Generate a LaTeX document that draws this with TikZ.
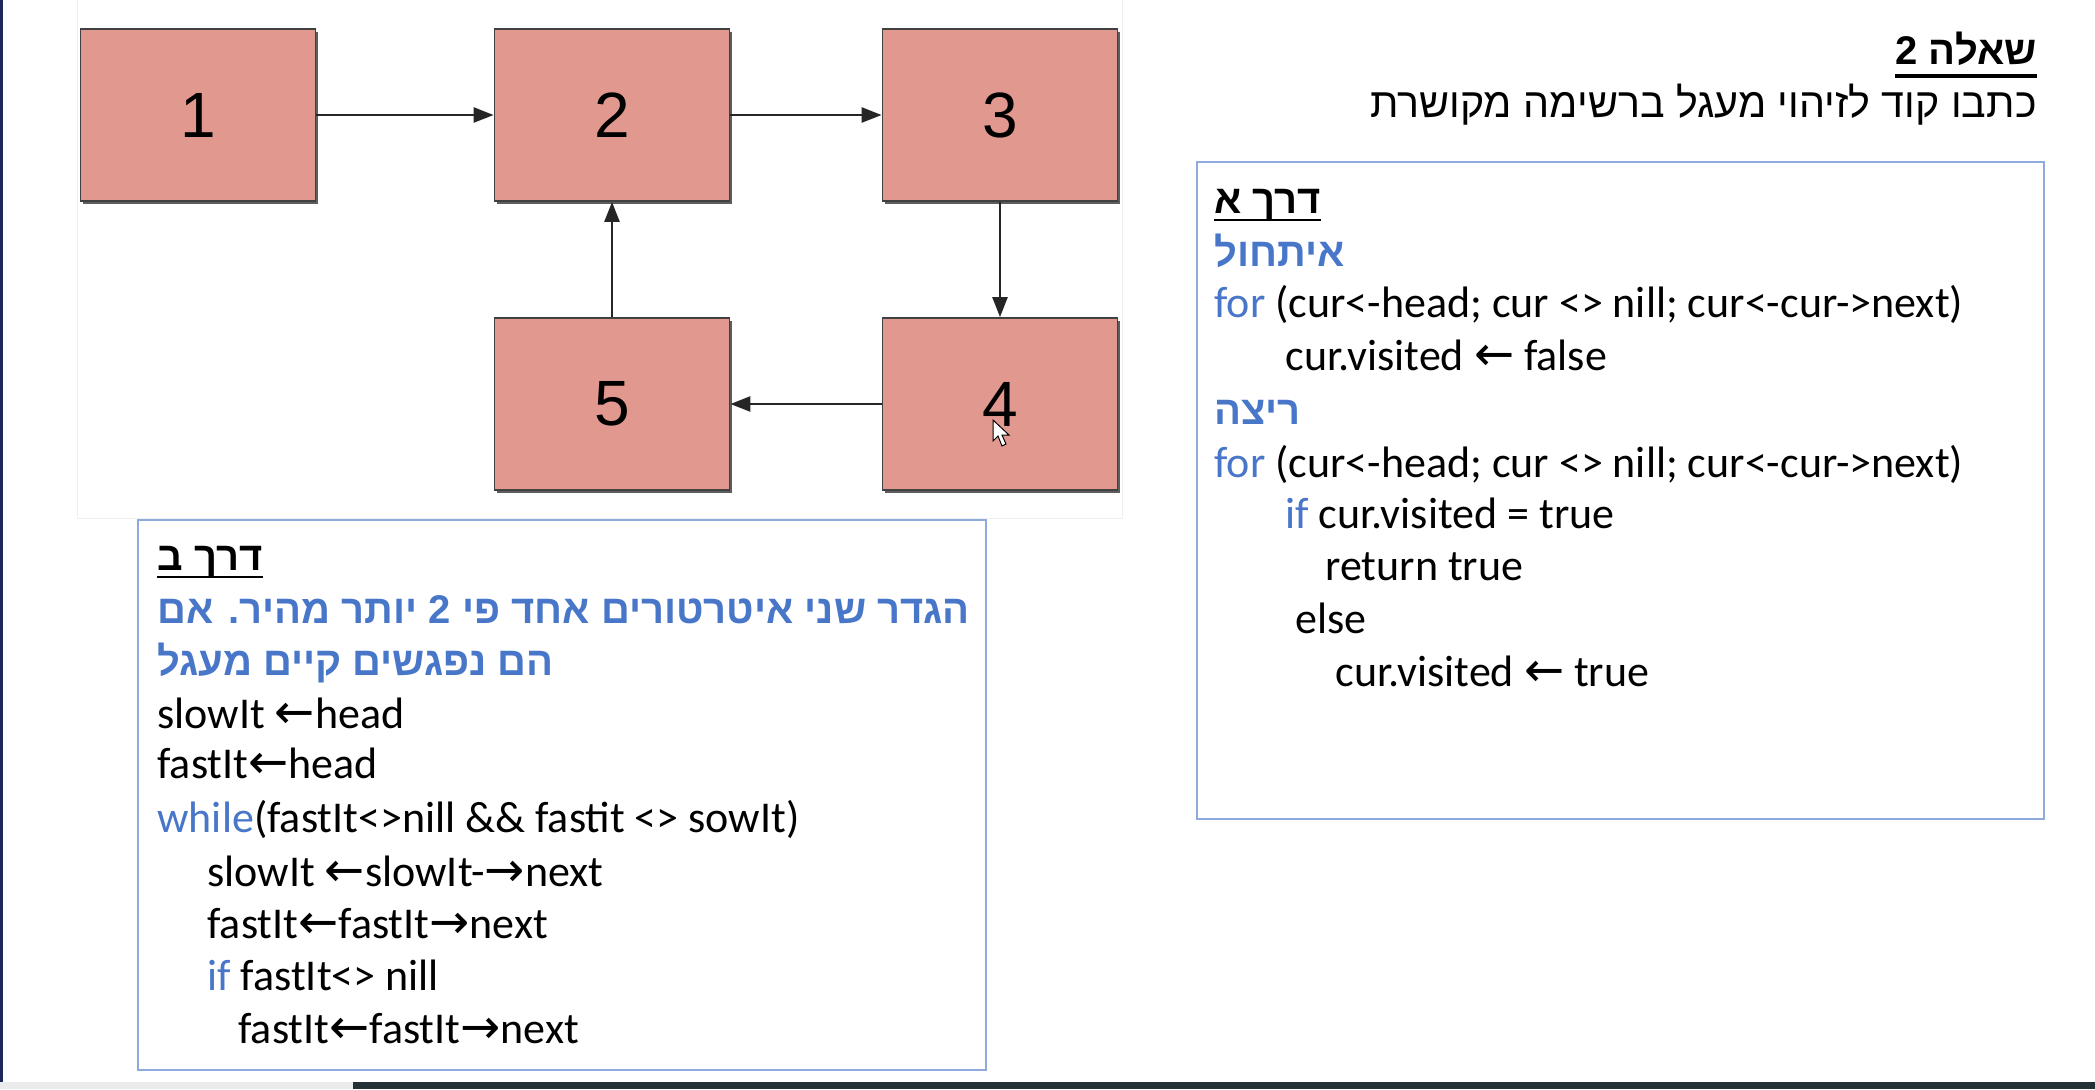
\documentclass[tikz,border=0pt]{standalone}
\usepackage{fontspec}
\setmainfont{Carlito}
\newfontfamily\hebfont[Script=Hebrew]{Liberation Sans}
\newfontfamily\numfont{Liberation Sans}
\newfontfamily\arrowfont{DejaVu Sans}
\TeXXeTstate=1
\usetikzlibrary{arrows.meta,positioning,shadows}

\definecolor{boxfill}{RGB}{225,152,143}
\definecolor{frameblue}{RGB}{143,170,220}
\definecolor{kwblue}{RGB}{72,118,200}
\definecolor{barDark}{RGB}{36,48,54}

\newcommand{\kw}[1]{\textcolor{kwblue}{#1}}
\newcommand{\heb}[1]{{\hebfont\beginR #1\endR}}
\newcommand{\toleft}{{\arrowfont\fontsize{24}{26}\selectfont ←}}
\newcommand{\toright}{{\arrowfont\fontsize{24}{26}\selectfont →}}

\begin{document}
\begin{tikzpicture}[
    x=0.5pt, y=-0.5pt,
    listbox/.style={draw=black!75, line width=0.9pt, fill=boxfill,
        minimum width=117.5pt, minimum height=86pt, inner sep=0pt,
        font=\numfont\fontsize{32}{38}\selectfont,
        drop shadow={shadow xshift=1.3pt, shadow yshift=-1.3pt, fill=black!70, opacity=0.9}},
    edge/.style={-{Triangle[length=10pt, width=7.5pt]}, line width=1.3pt, black!85},
    codeframe/.style={draw=frameblue, line width=1pt},
    codeline/.style={anchor=base west, inner sep=0pt, font=\fontsize{22}{26}\selectfont},
    hebline/.style={anchor=base west, inner sep=0pt, font=\hebfont\bfseries\fontsize{20}{24}\selectfont},
    uline/.style={line width=1.2pt},
]
\useasboundingbox (0,0) rectangle (2095,1089);

% Screen edges
\fill[white] (0,0) rectangle (2095,1089);
\draw[black!6] (77,0) -- (77,518) -- (1122,518) -- (1122,0);
\fill[barDark!80!blue] (0,0) rectangle (3,1082);
\fill[black!8] (0,1082) rectangle (353,1089);
\fill[barDark] (353,1082) rectangle (2095,1089);

% Nodes
\node[listbox] (n1) at (198,115) {1};
\node[listbox] (n2) at (612,115) {2};
\node[listbox] (n3) at (1000,115) {3};
\node[listbox] (n4) at (1000,404) {4};
\node[listbox] (n5) at (612,404) {5};

% Edges
\draw[edge] (n1) -- (n2);
\draw[edge] (n2) -- (n3);
\draw[edge] (n3) -- (n4);
\draw[edge] (n4) -- (n5);
\draw[edge] (n5) -- (n2);

% Mouse pointer
\draw[black, line width=0.5pt, fill=white] (993,420) -- (993,441) -- (998,436) -- (1002,446)
    -- (1006,444) -- (1002,435) -- (1009,435) -- cycle;

% Title
\node[anchor=base east, inner sep=0pt, font=\hebfont\bfseries\fontsize{20}{24}\selectfont] (title) at (2037,64) {\heb{שאלה 2}};
\draw[line width=2pt] ([yshift=-6pt]title.base west) -- ([yshift=-6pt]title.base east);
\node[anchor=base east, inner sep=0pt, font=\hebfont\fontsize{20.6}{25}\selectfont] (task) at (2037,117) {\heb{כתבו קוד לזיהוי מעגל ברשימה מקושרת}};

% Way A
\draw[codeframe] (1197,162) rectangle (2044,819);
\node[hebline] (a0) at (1214,213) {\heb{דרך א}};
\draw[uline] ([yshift=-3.5pt]a0.base west) -- ([yshift=-3.5pt]a0.base east);
\node[hebline, text=kwblue] (a1) at (1214,266) {\heb{איתחול}};
\node[codeline] (a2) at (1214,317) {\kw{for} (cur<-head; cur <> nill; cur<-cur->next)};
\node[codeline] (a3) at (1285,370) {cur.visited \toleft{} false};
\node[hebline, text=kwblue] (a4) at (1214,424) {\heb{ריצה}};
\node[codeline] (a5) at (1214,477) {\kw{for} (cur<-head; cur <> nill; cur<-cur->next)};
\node[codeline] (a6) at (1285,528) {\kw{if} cur.visited = true};
\node[codeline] (a7) at (1325,580) {return true};
\node[codeline] (a8) at (1295,633) {else};
\node[codeline] (a9) at (1335,686) {cur.visited \toleft{} true};

% Way B
\draw[codeframe] (138,520) rectangle (986,1070);
\node[hebline] (b0) at (157,570) {\heb{דרך ב}};
\draw[uline] ([yshift=-3.5pt]b0.base west) -- ([yshift=-3.5pt]b0.base east);
\node[hebline, text=kwblue] (b1) at (157,623) {\heb{הגדר שני איטרטורים אחד פי 2 יותר מהיר. אם}};
\node[hebline, text=kwblue] (b2) at (157,675) {\heb{הם נפגשים קיים מעגל}};
\node[codeline] (b3) at (157,728) {slowIt \toleft head};
\node[codeline] (b4) at (157,778) {fastIt\toleft head};
\node[codeline] (b5) at (157,832) {\kw{while}(fastIt<>nill \&\& fastit <> sowIt)};
\node[codeline] (b6) at (207,886) {slowIt \toleft slowIt-\toright next};
\node[codeline] (b7) at (207,938) {fastIt\toleft fastIt\toright next};
\node[codeline] (b8) at (207,990) {\kw{if} fastIt<> nill};
\node[codeline] (b9) at (238,1043) {fastIt\toleft fastIt\toright next};

\end{tikzpicture}
\end{document}
